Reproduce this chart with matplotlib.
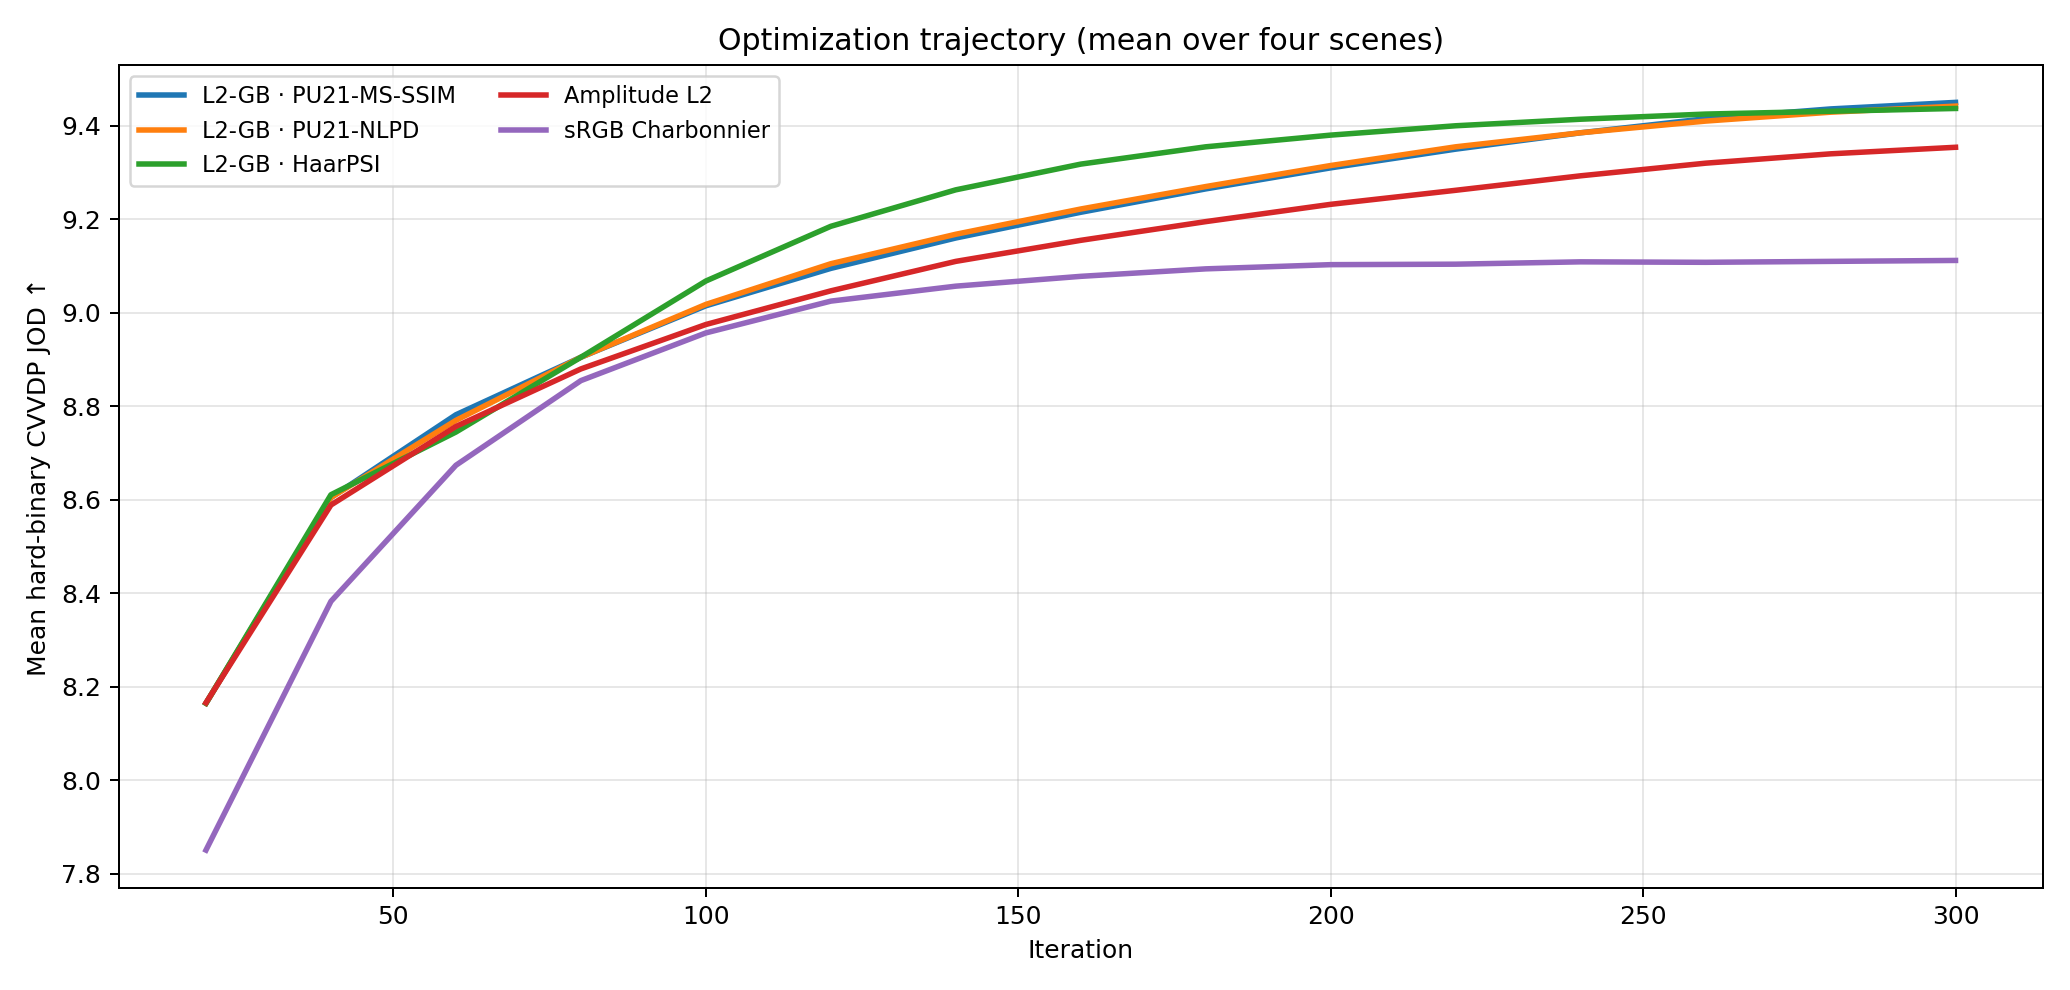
import matplotlib
matplotlib.use("Agg")
import matplotlib.pyplot as plt

iterations = [20, 40, 60, 80, 100, 120, 140, 160, 180, 200, 220, 240, 260, 280, 300]

ms_ssim = [8.165, 8.605, 8.782, 8.905, 9.015, 9.095, 9.16, 9.215, 9.265, 9.31, 9.35, 9.385, 9.415, 9.436, 9.45]
nlpd = [8.165, 8.605, 8.77, 8.905, 9.018, 9.105, 9.168, 9.222, 9.27, 9.315, 9.355, 9.385, 9.41, 9.429, 9.442]
haarpsi = [8.165, 8.611, 8.745, 8.905, 9.068, 9.185, 9.263, 9.318, 9.355, 9.38, 9.40, 9.414, 9.425, 9.431, 9.437]
amp_l2 = [8.166, 8.589, 8.757, 8.88, 8.975, 9.047, 9.11, 9.155, 9.195, 9.232, 9.262, 9.293, 9.32, 9.34, 9.354]
charb = [7.851, 8.383, 8.674, 8.855, 8.957, 9.025, 9.057, 9.078, 9.094, 9.103, 9.104, 9.109, 9.108, 9.11, 9.112]

series = [
    ("L2-GB · PU21-MS-SSIM", ms_ssim, "#1f77b4"),
    ("L2-GB · PU21-NLPD", nlpd, "#ff7f0e"),
    ("L2-GB · HaarPSI", haarpsi, "#2ca02c"),
    ("Amplitude L2", amp_l2, "#d62728"),
    ("sRGB Charbonnier", charb, "#9467bd"),
]

fig, ax = plt.subplots(figsize=(11.5, 5.5), dpi=180)
for label, vals, c in series:
    ax.plot(iterations, vals, label=label, color=c, lw=2.2)

ax.set_title("Optimization trajectory (mean over four scenes)", fontsize=12)
ax.set_xlabel("Iteration")
ax.set_ylabel("Mean hard-binary CVVDP JOD ↑")
ax.grid(True, alpha=0.3)
ax.legend(ncol=2, loc="upper left", fontsize=9)
fig.tight_layout()
fig.savefig("out.png", dpi=180)
